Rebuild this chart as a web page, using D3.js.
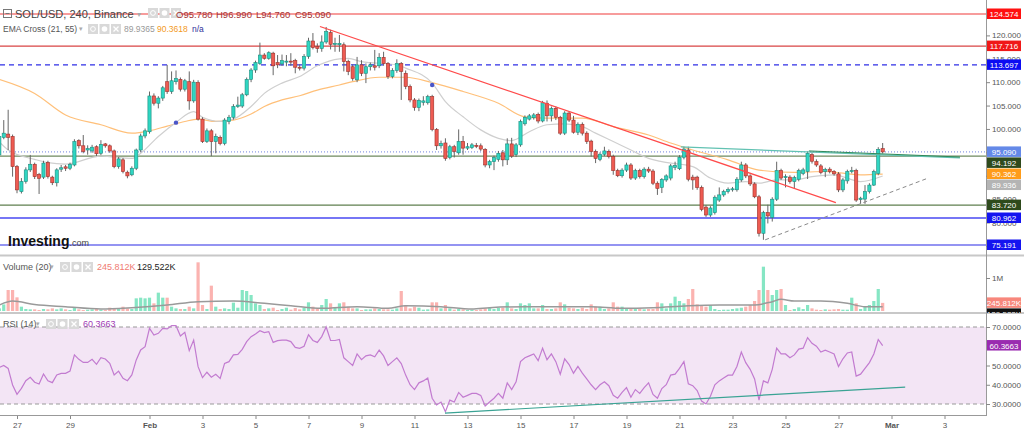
<!DOCTYPE html>
<html>
<head>
<meta charset="utf-8">
<script src="https://cdn.jsdelivr.net/npm/d3@7"></script>
<style>
  html, body { margin: 0; padding: 0; background: #fff; }
  svg { display: block; font-family: "Liberation Sans", Arial, sans-serif; }
</style>
</head>
<body>
<svg id="chart" width="1024" height="433"></svg>
<script>
// 4h candles, SOL/USD Binance, first bar 26 Jan 2022 08:00
const startTime = Date.UTC(2022, 0, 26, 8);
const H4 = 4 * 3600 * 1000;

// [open, high, low, close]
const ohlc = [
  [94.45, 99.5, 93.5, 98.4], [98.2, 101.9, 97.8, 99.1], [98.9, 104.1, 95.5, 98.2], [98.4, 98.8, 89.8, 91.95],
  [91.95, 92.3, 86.26, 86.97], [86.6, 89.5, 86.2, 88.75], [88.75, 91.8, 88.3, 91.25], [91.25, 94.45, 90.8, 92.45],
  [92.45, 92.8, 89.3, 89.8], [90.3, 90.6, 86.1, 89.45], [89.7, 93.2, 89.3, 92.7], [92.8, 93.2, 89.4, 89.8],
  [89.7, 90.0, 88.0, 88.5], [88.5, 91.6, 87.7, 91.25], [91.4, 92.3, 90.8, 91.7], [91.9, 92.3, 91.0, 91.6],
  [91.6, 92.8, 91.2, 92.45], [92.3, 97.8, 92.0, 97.3], [97.5, 97.8, 95.8, 96.4], [96.4, 98.7, 94.8, 95.2],
  [95.5, 96.5, 94.5, 95.8], [95.3, 96.6, 94.9, 96.1], [96.2, 96.5, 94.2, 94.7], [94.8, 97.6, 94.4, 96.7],
  [96.8, 97.0, 96.0, 96.4], [96.4, 96.7, 94.9, 95.3], [95.3, 95.6, 91.6, 91.95], [91.95, 94.0, 91.5, 93.6],
  [93.4, 93.8, 90.5, 90.9], [90.75, 91.1, 89.45, 89.96], [90.2, 92.0, 89.9, 91.6], [91.6, 95.8, 91.2, 95.5],
  [95.5, 99.0, 95.0, 98.5], [98.5, 100.1, 98.0, 99.6], [99.4, 108.0, 99.0, 107.05], [107.05, 107.6, 105.0, 105.5],
  [105.5, 107.0, 104.4, 106.6], [106.6, 109.2, 106.0, 108.8], [110.1, 113.7, 107.5, 108.0], [108.0, 112.3, 107.5, 110.3],
  [110.1, 112.5, 109.5, 110.8], [110.6, 111.0, 108.0, 108.5], [108.5, 110.7, 108.0, 110.3], [110.1, 112.3, 104.1, 106.0],
  [106.0, 110.5, 105.6, 110.0], [109.9, 110.4, 101.8, 102.1], [102.1, 102.5, 97.0, 97.3], [97.3, 100.1, 97.0, 99.6],
  [99.6, 100.0, 94.2, 97.3], [97.3, 99.0, 94.8, 98.4], [98.2, 98.6, 96.5, 96.9], [96.9, 102.3, 96.5, 101.9],
  [101.6, 103.0, 101.0, 102.5], [102.5, 105.3, 102.0, 104.8], [104.8, 106.9, 104.5, 105.1], [104.9, 107.7, 104.5, 107.3],
  [107.3, 111.0, 107.0, 110.6], [110.6, 113.0, 110.0, 112.6], [112.6, 114.6, 112.0, 114.2], [114.0, 118.45, 113.7, 115.8],
  [115.8, 116.2, 114.8, 115.1], [115.1, 116.6, 114.8, 116.3], [116.2, 116.5, 111.5, 113.5], [114.2, 115.8, 113.0, 113.7],
  [113.9, 115.9, 113.5, 114.6], [114.4, 115.8, 113.4, 114.5], [114.5, 116.2, 113.5, 114.4], [114.6, 115.0, 111.9, 113.2],
  [113.2, 113.8, 112.5, 113.1], [113.0, 116.0, 112.5, 115.5], [115.5, 119.5, 115.0, 118.8], [118.8, 120.5, 117.0, 117.4],
  [117.6, 118.3, 116.3, 117.2], [117.2, 120.0, 116.5, 118.6], [118.6, 121.8, 118.2, 120.8], [120.6, 121.2, 117.0, 118.1],
  [118.1, 119.5, 116.5, 118.3], [118.0, 120.1, 116.5, 118.3], [118.0, 118.5, 112.3, 114.4], [114.4, 114.8, 111.5, 112.3],
  [113.3, 113.8, 110.3, 110.8], [110.5, 115.4, 110.0, 113.7], [113.7, 114.7, 111.3, 111.9], [111.9, 114.0, 109.8, 113.3],
  [113.3, 114.2, 112.5, 113.7], [113.5, 116.9, 112.5, 113.2], [113.5, 116.2, 113.0, 115.3], [115.3, 116.5, 113.5, 114.0],
  [114.0, 114.3, 110.7, 111.2], [111.2, 113.0, 110.8, 112.5], [112.5, 114.9, 112.0, 114.0], [114.0, 114.3, 106.2, 112.3],
  [111.9, 112.5, 108.5, 109.1], [109.1, 109.5, 105.7, 106.2], [106.2, 106.6, 103.9, 104.6], [104.6, 106.5, 103.8, 106.1],
  [105.7, 107.0, 105.0, 106.0], [105.6, 107.3, 105.2, 106.9], [106.9, 107.3, 99.5, 99.9], [99.9, 100.2, 95.5, 96.4],
  [96.4, 97.5, 95.8, 96.9], [97.0, 98.0, 93.2, 93.7], [93.9, 96.6, 93.5, 96.2], [96.2, 96.6, 93.9, 95.2],
  [94.9, 99.9, 94.5, 97.3], [97.3, 98.5, 94.5, 95.9], [95.9, 97.0, 95.5, 96.2], [96.0, 97.0, 95.7, 96.6],
  [96.5, 97.0, 95.9, 96.4], [96.4, 96.9, 95.3, 95.7], [95.6, 95.9, 91.8, 92.3], [92.3, 93.4, 91.6, 93.0],
  [93.0, 94.3, 91.2, 93.9], [93.5, 95.3, 93.0, 94.8], [94.9, 95.5, 92.0, 93.4], [93.4, 98.0, 92.3, 96.8],
  [96.8, 98.1, 93.8, 94.2], [94.5, 97.0, 94.0, 96.6], [96.6, 102.0, 96.2, 101.6], [101.1, 102.9, 100.7, 102.5],
  [102.1, 103.2, 101.8, 102.8], [102.4, 103.4, 102.0, 103.0], [103.1, 103.5, 101.2, 101.7], [101.7, 106.0, 101.4, 105.6],
  [105.5, 106.1, 101.6, 102.8], [102.8, 104.8, 101.6, 104.4], [104.4, 104.8, 101.9, 102.5], [102.5, 102.8, 98.7, 99.1],
  [99.1, 103.8, 98.7, 103.4], [103.4, 103.7, 101.5, 101.9], [101.9, 102.8, 99.0, 99.3], [99.3, 101.4, 98.7, 101.0],
  [101.0, 101.4, 98.6, 99.1], [99.1, 99.5, 96.8, 97.3], [97.4, 97.7, 94.1, 95.2], [95.2, 95.6, 92.7, 93.7],
  [93.5, 95.0, 93.1, 94.6], [94.6, 96.2, 94.2, 95.3], [95.2, 95.6, 93.7, 94.1], [94.1, 94.5, 90.2, 91.1],
  [91.1, 91.5, 89.7, 90.0], [90.0, 91.6, 89.6, 91.2], [91.2, 92.8, 90.8, 92.3], [92.3, 92.7, 89.1, 89.5],
  [89.5, 91.5, 89.1, 91.1], [91.1, 91.5, 89.4, 89.8], [89.8, 91.8, 89.4, 91.4], [91.4, 91.9, 90.6, 91.0],
  [91.0, 91.4, 88.0, 88.4], [88.4, 88.8, 85.9, 87.3], [87.5, 89.5, 86.3, 89.2], [89.1, 90.3, 88.7, 89.96],
  [89.5, 92.5, 89.0, 92.1], [91.8, 93.0, 91.2, 92.2], [91.5, 94.4, 91.2, 93.95], [93.95, 96.2, 93.5, 95.7],
  [95.5, 96.2, 88.8, 89.25], [89.7, 90.2, 87.0, 89.1], [89.7, 90.0, 87.0, 87.5], [87.5, 87.9, 82.4, 82.8],
  [83.3, 83.7, 81.2, 81.6], [81.6, 83.5, 81.2, 83.1], [82.1, 85.8, 81.7, 85.4], [84.8, 87.5, 84.4, 85.9],
  [85.9, 87.0, 85.5, 86.6], [86.6, 87.5, 86.2, 87.1], [87.0, 87.6, 86.6, 87.2], [87.0, 89.7, 86.6, 89.25],
  [89.1, 93.0, 88.7, 92.3], [92.3, 92.7, 89.5, 89.96], [89.96, 90.3, 87.8, 88.25], [88.25, 88.6, 85.2, 85.5],
  [85.5, 85.9, 77.0, 77.7], [77.7, 82.5, 76.3, 82.1], [82.1, 83.8, 79.8, 81.4], [81.1, 85.4, 80.2, 84.98],
  [84.98, 93.0, 84.6, 91.1], [91.1, 91.5, 89.1, 89.5], [89.6, 90.3, 87.5, 89.8], [89.7, 90.1, 88.3, 88.75],
  [88.75, 90.0, 87.3, 89.6], [89.25, 91.5, 88.8, 91.1], [90.5, 91.7, 90.1, 91.25], [90.9, 95.2, 89.3, 94.8],
  [94.5, 95.0, 92.6, 93.1], [93.0, 93.5, 91.9, 92.3], [92.1, 92.5, 90.3, 90.7], [90.9, 91.7, 89.7, 91.3],
  [91.4, 91.8, 90.5, 90.9], [90.9, 91.2, 90.0, 90.4], [90.4, 90.8, 86.5, 86.97], [86.97, 89.5, 86.5, 89.1],
  [88.9, 91.3, 88.3, 90.9], [90.9, 91.9, 90.5, 91.1], [91.1, 91.5, 84.4, 84.8], [84.9, 85.5, 84.0, 85.2],
  [85.0, 88.0, 84.0, 86.6], [86.6, 88.4, 86.2, 88.0], [88.0, 91.3, 87.8, 90.9], [90.5, 96.1, 90.1, 95.65],
  [95.78, 96.99, 94.76, 95.09]
];

// volume per bar, thousands
const volume = [
  80, 200, 636, 636, 414, 131, 60, 50, 50, 30,
  60, 50, 80, 50, 80, 50, 30, 100, 50, 30,
  40, 50, 60, 40, 30, 100, 80, 60, 130, 80,
  60, 384, 404, 384, 404, 232, 556, 404, 404, 131,
  80, 60, 60, 131, 80, 1475, 182, 60, 768, 131,
  60, 80, 60, 253, 100, 636, 606, 485, 232, 182,
  60, 80, 100, 30, 60, 100, 40, 90, 50, 100,
  263, 131, 80, 182, 364, 232, 100, 232, 263, 131,
  80, 80, 30, 50, 50, 80, 60, 50, 50, 40,
  80, 606, 182, 80, 131, 100, 40, 50, 263, 263,
  80, 182, 80, 40, 60, 50, 30, 40, 30, 50,
  80, 100, 60, 100, 100, 263, 80, 60, 232, 182,
  232, 80, 80, 182, 60, 60, 80, 263, 202, 100,
  80, 60, 100, 60, 202, 131, 131, 60, 80, 263,
  131, 131, 60, 80, 60, 80, 50, 60, 60, 263,
  232, 80, 232, 434, 303, 232, 364, 667, 202, 182,
  131, 182, 60, 30, 40, 40, 60, 80, 100, 131,
  182, 303, 636, 1343, 636, 485, 636, 667, 182, 30,
  60, 111, 60, 182, 80, 40, 30, 50, 40, 50,
  60, 40, 40, 404, 232, 60, 131, 182, 303, 667,
  245.812
];

// volume MA(20), read at a few bars
const volMaIdx = [0, 3, 8, 15, 23, 30, 38, 45, 53, 60, 66, 73, 81, 88, 92, 100, 107, 111, 119, 126, 134, 141, 148, 156, 163, 171, 175, 177, 180, 186, 192, 196, 200];
const volMaVal = [180, 300, 200, 130, 60, 100, 180, 283, 303, 232, 160, 80, 131, 80, 160, 131, 60, 100, 131, 131, 131, 80, 100, 160, 182, 182, 283, 354, 303, 303, 232, 131, 129.522];

// RSI(14) per bar
const rsi = [
  49, 50, 48.5, 39.9, 35, 38.1, 42.1, 43.9, 41.3, 40.4,
  45.6, 42.1, 41.1, 45.1, 45.9, 45.9, 47.1, 55.5, 53.2, 51.6,
  51.6, 53.2, 50.6, 54.1, 53.4, 51.1, 45.1, 47.1, 43.3, 42.1,
  45.1, 52.9, 58.1, 59.8, 69.3, 65.8, 66.7, 69.3, 69, 70.7,
  70.7, 65.3, 67.2, 57.7, 63.2, 49.4, 43.7, 46.5, 43.9, 45.4,
  43.3, 51.1, 52, 55.5, 55.8, 58.4, 62.4, 65, 66.4, 68.1,
  67.1, 67.6, 62, 62.9, 63.2, 63.2, 62.4, 59.4, 58.9, 60,
  66, 63, 62, 65, 70, 63, 63, 63.5, 54, 52,
  50, 56, 53, 55, 55.5, 54.5, 58, 55, 50, 52,
  54, 51, 45, 40, 37.5, 41, 42, 43.5, 33, 29.5,
  31, 26, 32, 31, 36, 33.5, 34.5, 35.5, 35.5, 34.5,
  29, 31, 33, 35.5, 33, 41, 37.5, 41.5, 52, 54,
  55, 56, 52.5, 59, 53, 56, 52, 45.5, 53.5, 50.5,
  46, 49.5, 46, 43, 40, 37.5, 40, 41.5, 39.5, 34.5,
  33, 36, 38.5, 33.5, 37.5, 35.5, 38.5, 41, 35, 33,
  38, 40, 45, 45.5, 48.5, 52, 40.5, 39.5, 37, 31.5,
  30, 34, 40, 42, 43.5, 45, 45, 49.5, 57, 51.5,
  48, 43, 32, 42, 41, 48, 59, 56, 56, 54,
  55.5, 58.5, 59, 64.5, 61.5, 60, 57, 58, 57, 56,
  49.5, 53.5, 56.5, 57, 44.5, 45.5, 48.5, 51.5, 56, 63.5,
  60.3663
];

// EMA cross (21, 55), read at a few bars
const ema21Idx = [0, 2, 8, 11, 15, 23, 30, 32, 36, 40, 44, 46, 50, 53, 57, 60, 64, 68, 72, 77, 79, 82, 90, 92, 98, 101, 105, 109, 113, 116, 120, 124, 128, 132, 135, 139, 143, 147, 150, 157, 161, 165, 169, 172, 176, 180, 184, 189, 195, 200];
const ema21Val = [97.2, 95.5, 93.5, 92.8, 92.5, 94.2, 93.7, 94.8, 98.4, 101.4, 103.7, 102.5, 101.6, 102.1, 104.8, 107.6, 109.8, 111.2, 113.5, 115.0, 115.1, 114.4, 113.7, 113.0, 109.8, 105.85, 102.6, 99.8, 98.0, 97.5, 99.4, 100.9, 101.1, 100.5, 99.1, 97.3, 95.5, 93.7, 93.0, 91.96, 89.5, 88.4, 88.75, 88.4, 89.1, 89.1, 89.8, 90.2, 88.75, 89.9365];
const ema55Idx = [0, 8, 15, 23, 30, 34, 38, 42, 45, 49, 53, 57, 60, 64, 68, 72, 77, 80, 86, 92, 98, 105, 113, 119, 124, 132, 139, 147, 152, 157, 165, 172, 180, 187, 195, 200];
const ema55Val = [110.6, 107.6, 103.0, 100.9, 99.1, 99.6, 100.6, 101.6, 102.1, 101.6, 101.9, 103.2, 104.8, 106.2, 107.1, 108.3, 109.4, 110.1, 111.05, 111.05, 109.9, 108.0, 105.5, 102.6, 102.3, 102.3, 100.5, 98.7, 97.0, 95.5, 93.4, 91.2, 90.7, 90.9, 90.2, 90.3618];
const emaCrossIdx = [40, 98];
const emaCrossPrice = [101.35, 109.4];

// horizontal price levels drawn on the chart
const levelPrices = [124.574, 117.716, 113.697, 94.192, 83.720, 80.962, 75.191];
const levelColors = ['#f03a3a', '#d94545', '#2f2fe6', '#6f8a5f', '#5f7f4f', '#4848f2', '#7070ee'];
const levelTagColors = ['#ff1010', '#f01818', '#0c0cf2', '#2e4a1c', '#2e4a1c', '#1414f0', '#1414f0'];
const levelDash = [null, null, '5,4', null, null, null, null];

// trend lines: [barIndex, price] pairs
const trendRed = [[72.6, 121.9], [189.4, 84.26]];
const trendTeal = [[154.3, 96.16], [217.5, 93.8]];
const trendGreen = [[183.3, 95.3], [217.5, 94.0]];
const trendDashed = [[173.4, 76.3], [210.3, 89.5]];
const rsiTrend = [[100.9, 25.3], [205.1, 38.8]];

const priceTicks = [75, 80, 85, 90, 95, 100, 105, 110, 115, 120];
const rsiTicks = [30, 40, 50, 70];
const dayTicks = ['2022-01-27', '2022-01-29', '2022-02-01', '2022-02-03', '2022-02-05', '2022-02-07', '2022-02-09',
  '2022-02-11', '2022-02-13', '2022-02-15', '2022-02-17', '2022-02-19', '2022-02-21', '2022-02-23', '2022-02-25',
  '2022-02-27', '2022-03-01', '2022-03-03'];

const svg = d3.select('#chart');
const plotRight = 986;
const bottomY = 415;

const barTime = (i) => new Date(startTime + i * H4);
const x = d3.scaleUtc()
  .domain([new Date(Date.UTC(2022, 0, 27)), new Date(Date.UTC(2022, 2, 3))])
  .range([17, 944.5]);
const xi = (i) => x(barTime(i));
const yP = d3.scaleLinear().domain([124.574, 75.191]).range([14, 245]);
const yV = d3.scaleLinear().domain([0, 1000]).range([311, 278]);
const yR = d3.scaleLinear().domain([70, 30]).range([327, 404]);

const defs = svg.append('defs');
[['clipP', 0, 0, plotRight, 254], ['clipV', 0, 257, plotRight, 55], ['clipR', 0, 314, plotRight, bottomY - 314],
 ['clipVT', 960, 257, 64, 56]].forEach(([id, cx, cy, w, h]) => {
  defs.append('clipPath').attr('id', id).append('rect').attr('x', cx).attr('y', cy).attr('width', w).attr('height', h);
});

// ---------- price panel ----------
const gP = svg.append('g').attr('clip-path', 'url(#clipP)');

levelPrices.forEach((p, k) => {
  gP.append('line')
    .attr('x1', 0).attr('x2', plotRight)
    .attr('y1', yP(p)).attr('y2', yP(p))
    .attr('stroke', levelColors[k])
    .attr('stroke-width', k >= 5 ? 1.6 : 1.2)
    .attr('stroke-dasharray', levelDash[k]);
});

// last price dotted line
const lastClose = ohlc[ohlc.length - 1][3];
gP.append('line')
  .attr('x1', 0).attr('x2', plotRight)
  .attr('y1', yP(lastClose)).attr('y2', yP(lastClose))
  .attr('stroke', '#7083e0').attr('stroke-width', 1).attr('stroke-dasharray', '1,2');

const emaLine = d3.line().x((d) => xi(d[0])).y((d) => yP(d[1])).curve(d3.curveMonotoneX);
gP.append('path')
  .attr('d', emaLine(ema55Idx.map((i, k) => [i, ema55Val[k]])))
  .attr('fill', 'none').attr('stroke', '#ffc07a').attr('stroke-width', 1.2);
gP.append('path')
  .attr('d', emaLine(ema21Idx.map((i, k) => [i, ema21Val[k]])))
  .attr('fill', 'none').attr('stroke', '#cfcfcf').attr('stroke-width', 1.2);

// candles
const bodyW = 3.2;
const candles = gP.append('g').selectAll('g').data(ohlc).enter().append('g');
candles.append('line')
  .attr('x1', (d, i) => xi(i)).attr('x2', (d, i) => xi(i))
  .attr('y1', (d) => yP(d[1])).attr('y2', (d) => yP(d[2]))
  .attr('stroke', '#666').attr('stroke-width', 1);
candles.append('rect')
  .attr('x', (d, i) => xi(i) - bodyW / 2)
  .attr('width', bodyW)
  .attr('y', (d) => yP(Math.max(d[0], d[3])))
  .attr('height', (d) => Math.max(1, Math.abs(yP(d[0]) - yP(d[3]))))
  .attr('fill', (d) => (d[3] >= d[0] ? '#2fd6c2' : '#ee5b52'))
  .attr('stroke', (d) => (d[3] >= d[0] ? '#1c8c7e' : '#9c2f29'))
  .attr('stroke-width', 0.6);

gP.selectAll('.cross').data(emaCrossIdx).enter().append('circle')
  .attr('cx', (i) => xi(i)).attr('cy', (i, k) => yP(emaCrossPrice[k]))
  .attr('r', 2.2).attr('fill', '#4a55c8');

const seg = (g, pts, yScale, color, w, dash) => {
  g.append('line')
    .attr('x1', xi(pts[0][0])).attr('y1', yScale(pts[0][1]))
    .attr('x2', xi(pts[1][0])).attr('y2', yScale(pts[1][1]))
    .attr('stroke', color).attr('stroke-width', w).attr('stroke-dasharray', dash);
};
seg(gP, trendRed, yP, '#ff4a4a', 1.3, null);
seg(gP, trendTeal, yP, '#62c2b2', 1.2, null);
seg(gP, trendGreen, yP, '#2f8a5a', 1, null);
seg(gP, trendDashed, yP, '#8a8a8a', 1, '4,3');

// Investing.com logo
const logo = svg.append('text').attr('x', 8).attr('y', 246);
logo.append('tspan').text('Investing').attr('font-size', 14).attr('font-weight', 'bold').attr('fill', '#111');
logo.append('tspan').text('.com').attr('font-size', 9).attr('fill', '#444');

// ---------- volume panel ----------
const gV = svg.append('g').attr('clip-path', 'url(#clipV)');
gV.selectAll('rect').data(volume).enter().append('rect')
  .attr('x', (d, i) => xi(i) - bodyW / 2)
  .attr('width', bodyW)
  .attr('y', (d) => yV(d))
  .attr('height', (d) => yV(0) - yV(d))
  .attr('fill', (d, i) => (ohlc[i][3] >= ohlc[i][0] ? '#86e6c4' : '#fbb3b0'));
gV.append('path')
  .attr('d', d3.line().x((d) => xi(d[0])).y((d) => yV(d[1])).curve(d3.curveMonotoneX)(volMaIdx.map((i, k) => [i, volMaVal[k]])))
  .attr('fill', 'none').attr('stroke', '#9a9a9a').attr('stroke-width', 1.5);

// ---------- RSI panel ----------
const gR = svg.append('g').attr('clip-path', 'url(#clipR)');
gR.append('rect')
  .attr('x', 0).attr('width', plotRight)
  .attr('y', yR(70)).attr('height', yR(30) - yR(70))
  .attr('fill', '#f3e5f5');
[70, 30].forEach((v) => {
  gR.append('line').attr('x1', 0).attr('x2', plotRight).attr('y1', yR(v)).attr('y2', yR(v))
    .attr('stroke', '#999').attr('stroke-dasharray', '4,3');
});
gR.append('path')
  .attr('d', d3.line().x((d, i) => xi(i)).y((d) => yR(d))(rsi))
  .attr('fill', 'none').attr('stroke', '#c27bd0').attr('stroke-width', 1.2);
seg(gR, rsiTrend, yR, '#3aa394', 1.2, null);

// ---------- frames ----------
const frame = svg.append('g');
frame.append('line').attr('x1', 0).attr('x2', 1024).attr('y1', 255.5).attr('y2', 255.5).attr('stroke', '#c8c8c8').attr('stroke-width', 2);
frame.append('line').attr('x1', 0).attr('x2', 1024).attr('y1', 313).attr('y2', 313).attr('stroke', '#c8c8c8').attr('stroke-width', 2);
frame.append('line').attr('x1', 0).attr('x2', plotRight + 1).attr('y1', bottomY + 0.5).attr('y2', bottomY + 0.5).attr('stroke', '#999').attr('stroke-width', 1);
frame.append('line').attr('x1', plotRight + 0.5).attr('x2', plotRight + 0.5).attr('y1', 0).attr('y2', bottomY + 1).attr('stroke', '#999');

// ---------- axes ----------
const styleAxis = (g) => {
  g.select('.domain').remove();
  g.selectAll('line').attr('stroke', '#888');
  g.selectAll('text').attr('fill', '#555').attr('font-size', 8).attr('font-family', '"Liberation Sans", Arial, sans-serif');
};
svg.append('g').attr('transform', `translate(${plotRight},0)`)
  .call(d3.axisRight(yP).tickValues(priceTicks).tickSize(4).tickPadding(2).tickFormat(d3.format('.3f')))
  .call(styleAxis);
svg.append('g').attr('transform', `translate(${plotRight},0)`)
  .call(d3.axisRight(yV).tickValues([1000]).tickSize(4).tickPadding(2).tickFormat(() => '1M'))
  .call(styleAxis);
svg.append('g').attr('transform', `translate(${plotRight},0)`)
  .call(d3.axisRight(yR).tickValues(rsiTicks).tickSize(4).tickPadding(2).tickFormat(d3.format('.4f')))
  .call(styleAxis);
const xAxis = svg.append('g').attr('transform', `translate(0,${bottomY + 1})`)
  .call(d3.axisBottom(x)
    .tickValues(dayTicks.map((d) => new Date(d + 'T00:00:00Z')))
    .tickSize(3).tickPadding(3)
    .tickFormat((d) => (d.getUTCDate() === 1 ? d3.utcFormat('%b')(d) : d.getUTCDate())))
  .call(styleAxis);
xAxis.selectAll('text').attr('font-weight', (d) => (d.getUTCDate() === 1 ? 'bold' : 'normal'));

// ---------- price tags on the right scale ----------
const tagH = 11;
function drawTags(g, tags, yScale, fmt) {
  const list = tags.map((t) => ({ ...t, y: yScale(t.v) })).sort((a, b) => a.y - b.y);
  for (let k = 1; k < list.length; k++) {
    if (list[k].y < list[k - 1].y + tagH) list[k].y = list[k - 1].y + tagH;
  }
  list.forEach((t) => {
    g.append('rect').attr('x', plotRight + 1).attr('y', t.y - 5.5).attr('width', 34).attr('height', 10.5).attr('fill', t.c);
    g.append('text').attr('x', plotRight + 18).attr('y', t.y + 3)
      .attr('text-anchor', 'middle').attr('font-size', 8).attr('fill', '#fff').text(fmt(t.v));
  });
}
const priceTags = levelPrices.map((v, k) => ({ v, c: levelTagColors[k] }));
priceTags.push({ v: lastClose, c: '#6489e8' });
priceTags.push({ v: ema55Val[ema55Val.length - 1], c: '#ff9c1a' });
priceTags.push({ v: ema21Val[ema21Val.length - 1], c: '#b4b4b4' });
drawTags(svg.append('g'), priceTags, yP, d3.format('.3f'));
drawTags(svg.append('g').attr('clip-path', 'url(#clipVT)'),
  [{ v: volume[volume.length - 1], c: '#f8877c' }, { v: volMaVal[volMaVal.length - 1], c: '#111' }],
  yV, (v) => d3.format('.3f')(v) + 'K');
drawTags(svg.append('g'), [{ v: rsi[rsi.length - 1], c: '#9a2bb0' }], yR, d3.format('.4f'));

// ---------- legends ----------
function icons(x0, y0) {
  const g = svg.append('g');
  [0, 1, 2].forEach((k) => {
    const bx = x0 + k * 11.5;
    g.append('rect').attr('x', bx).attr('y', y0).attr('width', 10).attr('height', 10).attr('fill', '#d9d9d9');
    if (k === 0) g.append('circle').attr('cx', bx + 5).attr('cy', y0 + 5).attr('r', 2.4).attr('fill', 'none').attr('stroke', '#fff');
    if (k === 1) g.append('circle').attr('cx', bx + 5).attr('cy', y0 + 5).attr('r', 2.8).attr('fill', '#fff');
    if (k === 2) {
      g.append('path').attr('d', `M${bx + 2.5},${y0 + 2.5}L${bx + 7.5},${y0 + 7.5}M${bx + 7.5},${y0 + 2.5}L${bx + 2.5},${y0 + 7.5}`)
        .attr('stroke', '#fff').attr('stroke-width', 1.3);
    }
  });
}
function legendText(x0, y0, str, color, size) {
  return svg.append('text').attr('x', x0).attr('y', y0).attr('font-size', size).attr('fill', color).text(str);
}

svg.append('rect').attr('x', 3.5).attr('y', 9.5).attr('width', 8).attr('height', 8).attr('fill', 'none').attr('stroke', '#777');
svg.append('line').attr('x1', 5.5).attr('x2', 9.5).attr('y1', 13.5).attr('y2', 13.5).attr('stroke', '#777');
legendText(15, 18, 'SOL/USD, 240, Binance', '#444', 11);
legendText(137, 17, '▾', '#aaa', 8);
icons(148, 8);
const last = ohlc[ohlc.length - 1];
legendText(176, 18, 'O' + last[0].toFixed(3), '#a33131', 9.5);
legendText(216, 18, 'H' + last[1].toFixed(3), '#a33131', 9.5);
legendText(256, 18, 'L' + last[2].toFixed(3), '#a33131', 9.5);
legendText(295, 18, 'C' + last[3].toFixed(3), '#a33131', 9.5);

legendText(3, 32, 'EMA Cross (21, 55)', '#555', 8.5);
legendText(79, 31, '▾', '#aaa', 7);
icons(88, 24);
legendText(124, 32, ema21Val[ema21Val.length - 1].toFixed(4), '#999', 8.5);
legendText(157, 32, ema55Val[ema55Val.length - 1].toFixed(4), '#f39a1e', 8.5);
legendText(192, 32, 'n/a', '#30309a', 8.5);

legendText(3, 270, 'Volume (20)', '#555', 9);
legendText(50, 269, '▾', '#aaa', 7);
icons(60, 262);
legendText(97, 270, d3.format('.3f')(volume[volume.length - 1]) + 'K', '#f07a72', 9);
legendText(137, 270, d3.format('.3f')(volMaVal[volMaVal.length - 1]) + 'K', '#222', 9);

legendText(3, 327, 'RSI (14)', '#555', 9);
legendText(36, 326, '▾', '#aaa', 7);
icons(46, 319);
legendText(83, 327, rsi[rsi.length - 1].toFixed(4), '#a13cb5', 9);
</script>
</body>
</html>
